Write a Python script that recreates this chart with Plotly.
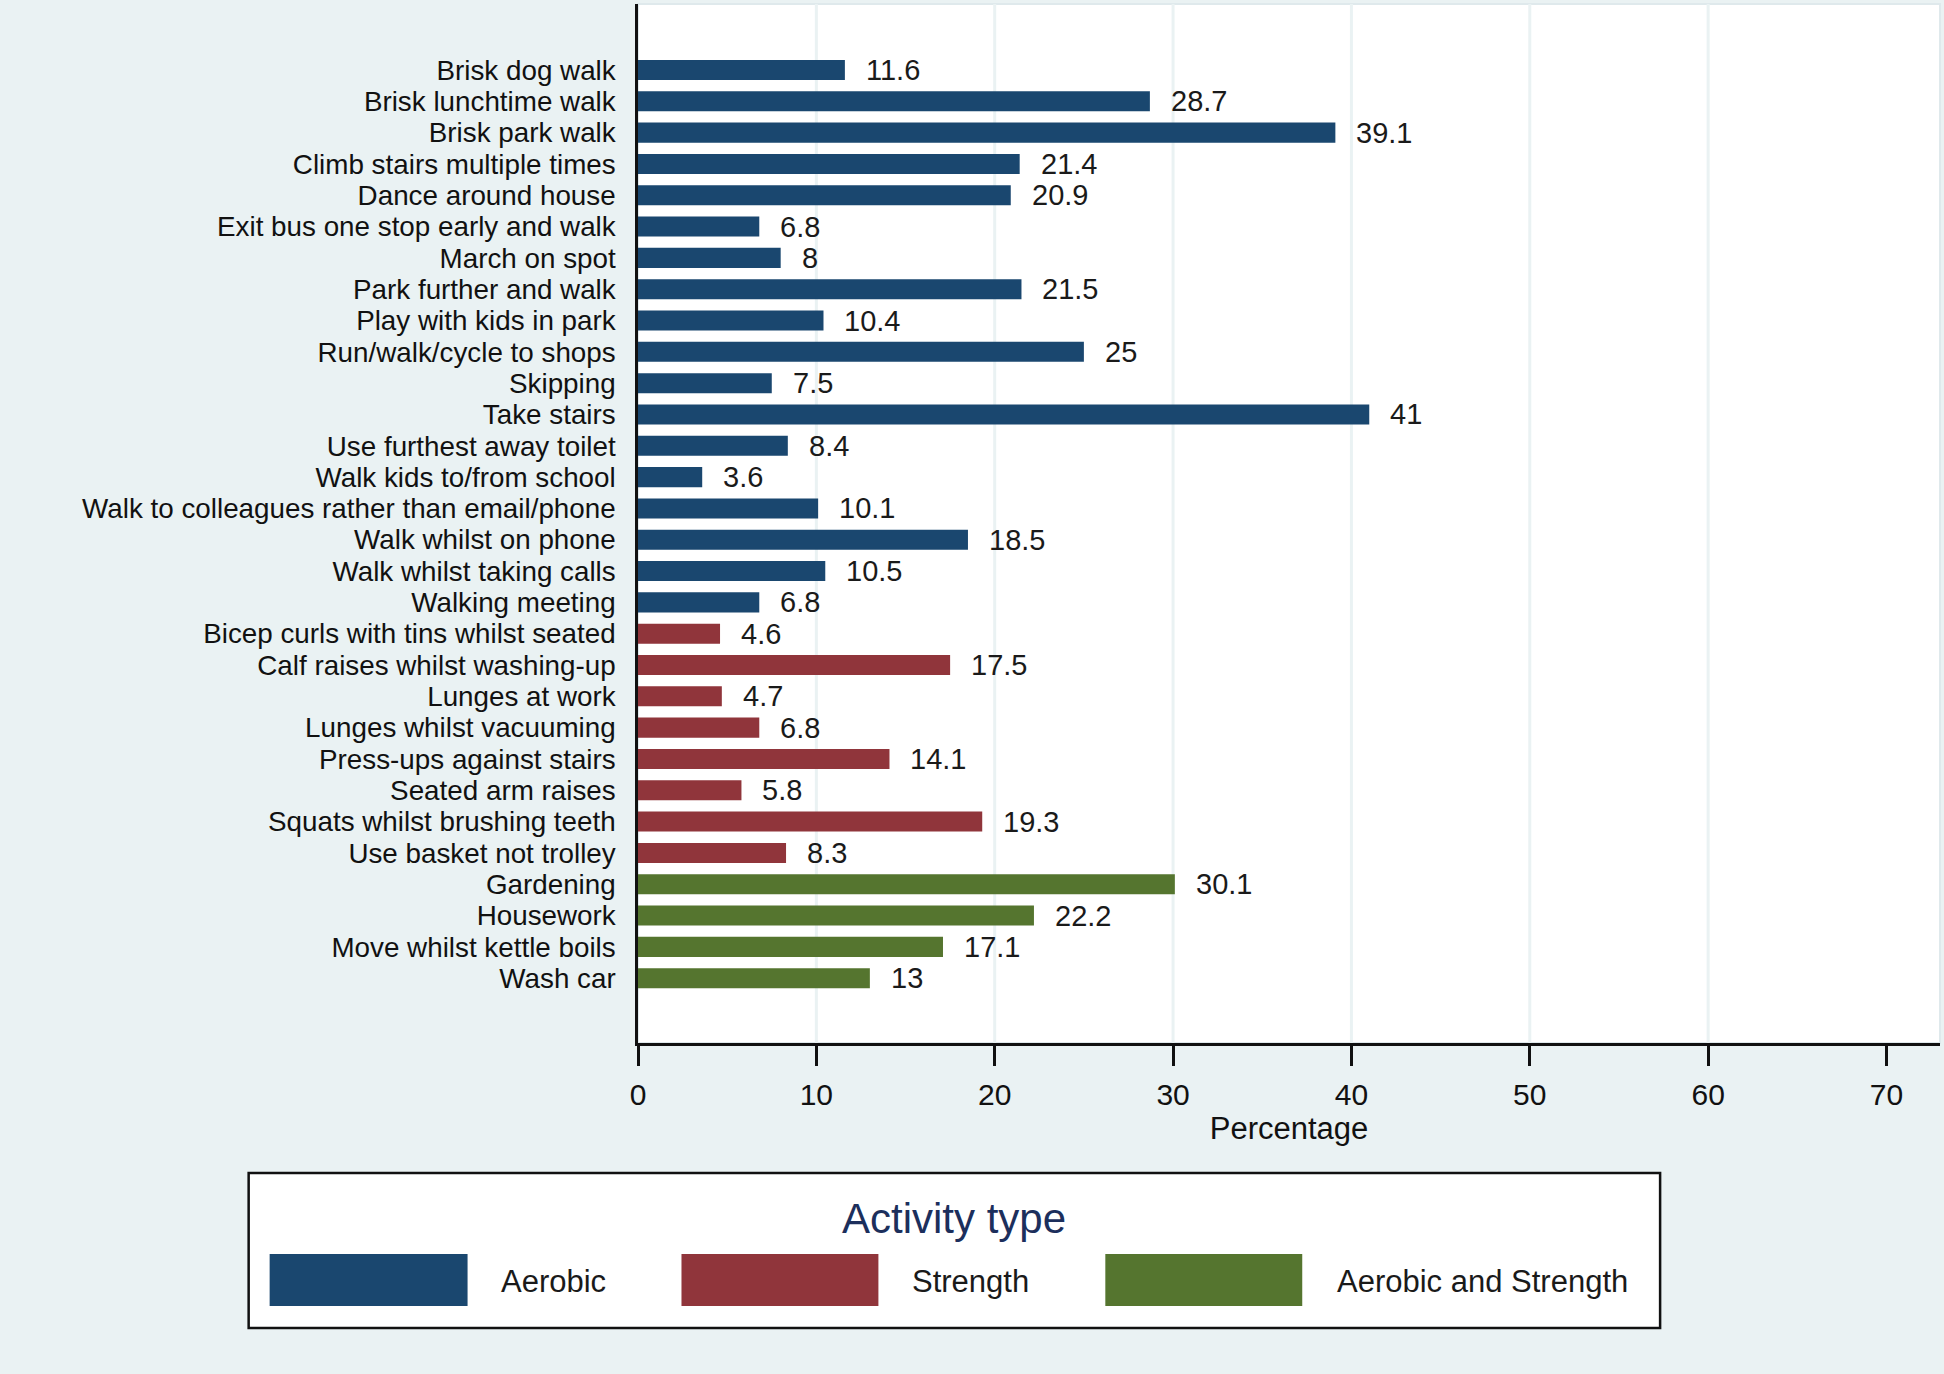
import plotly.graph_objects as go

# ---------------- data ----------------
aerobic_labels = [
    "Brisk dog walk", "Brisk lunchtime walk", "Brisk park walk",
    "Climb stairs multiple times", "Dance around house",
    "Exit bus one stop early and walk", "March on spot",
    "Park further and walk", "Play with kids in park",
    "Run/walk/cycle to shops", "Skipping", "Take stairs",
    "Use furthest away toilet", "Walk kids to/from school",
    "Walk to colleagues rather than email/phone", "Walk whilst on phone",
    "Walk whilst taking calls", "Walking meeting",
]
aerobic_values = [11.6, 28.7, 39.1, 21.4, 20.9, 6.8, 8, 21.5, 10.4, 25,
                  7.5, 41, 8.4, 3.6, 10.1, 18.5, 10.5, 6.8]

strength_labels = [
    "Bicep curls with tins whilst seated", "Calf raises whilst washing-up",
    "Lunges at work", "Lunges whilst vacuuming", "Press-ups against stairs",
    "Seated arm raises", "Squats whilst brushing teeth",
    "Use basket not trolley",
]
strength_values = [4.6, 17.5, 4.7, 6.8, 14.1, 5.8, 19.3, 8.3]

both_labels = ["Gardening", "Housework", "Move whilst kettle boils", "Wash car"]
both_values = [30.1, 22.2, 17.1, 13]

series_names = ["Aerobic", "Strength", "Aerobic and Strength"]
x_ticks = [0, 10, 20, 30, 40, 50, 60, 70]
grid_ticks = [10, 20, 30, 40, 50, 60]
legend_title = "Activity type"
x_title = "Percentage"

# ---------------- style ----------------
COLORS = ["#1a476f", "#90353b", "#55752f"]
BG = "#eaf2f3"
FONT = "Arial, Liberation Sans, sans-serif"
FIG_W, FIG_H = 1944, 1374
L, R, T, B = 637.5, 1940, 4, 1043
PW, PH = R - L, B - T


def px(xp):
    return (xp - L) / PW


def py(yp):
    return (B - yp) / PH


all_labels = aerobic_labels + strength_labels + both_labels
groups = [(aerobic_labels, aerobic_values),
          (strength_labels, strength_values),
          (both_labels, both_values)]

fig = go.Figure()
for (labs, vals), name, col in zip(groups, series_names, COLORS):
    fig.add_trace(go.Bar(
        x=vals, y=labs, orientation="h", name=name,
        marker=dict(color=col, line=dict(width=0)),
        width=0.64, showlegend=False,
    ))

annotations = []
for labs, vals in groups:
    for lab, v in zip(labs, vals):
        annotations.append(dict(
            x=v, y=lab, xref="x", yref="y", text=f"{v:g}",
            showarrow=False, xanchor="left", yanchor="middle", xshift=19,
            font=dict(family=FONT, size=29, color="#1a1a1a"),
        ))

shapes = []
# plot region outline (light)
shapes.append(dict(type="rect", xref="paper", yref="paper", x0=0, x1=1, y0=0, y1=1,
                   line=dict(color="#dfe9ec", width=2), fillcolor="rgba(0,0,0,0)",
                   layer="below"))
# vertical grid lines
for g in grid_ticks:
    shapes.append(dict(type="line", xref="x", yref="paper", x0=g, x1=g, y0=0, y1=1,
                       line=dict(color=BG, width=3), layer="below"))

# custom legend
shapes.append(dict(type="rect", xref="paper", yref="paper",
                   x0=px(248), x1=px(1660), y0=py(1328), y1=py(1173),
                   line=dict(color="#111111", width=2.5), fillcolor="white"))
sw_x = [(269, 467), (681, 878), (1105, 1302)]
txt_x = [498, 910, 1335]
for (a, b), col, tx, name in zip(sw_x, COLORS, txt_x, series_names):
    shapes.append(dict(type="rect", xref="paper", yref="paper",
                       x0=px(a), x1=px(b), y0=py(1306), y1=py(1254),
                       line=dict(width=0), fillcolor=col))
    annotations.append(dict(x=px(tx), y=py(1281), xref="paper", yref="paper",
                            text=name, showarrow=False, xanchor="left",
                            yanchor="middle",
                            font=dict(family=FONT, size=31, color="#1a1a1a")))
annotations.append(dict(x=px(954), y=py(1218), xref="paper", yref="paper",
                        text=legend_title, showarrow=False, xanchor="center",
                        yanchor="middle",
                        font=dict(family=FONT, size=42, color="#1c2f5c")))

fig.update_layout(
    width=FIG_W, height=FIG_H,
    margin=dict(l=L, r=FIG_W - R, t=T, b=FIG_H - B, pad=0),
    paper_bgcolor=BG, plot_bgcolor="white",
    barmode="overlay",
    font=dict(family=FONT, size=30, color="#111111"),
    shapes=shapes, annotations=annotations,
)
fig.update_xaxes(
    range=[0, 73], tickvals=x_ticks, ticktext=[str(t) for t in x_ticks],
    showgrid=False, zeroline=False,
    showline=True, linecolor="#111111", linewidth=2.5,
    ticks="outside", ticklen=20, tickwidth=2.5, tickcolor="#111111",
    tickfont=dict(family=FONT, size=30, color="#111111"),
    ticklabelstandoff=3,
    title=dict(text=x_title, font=dict(family=FONT, size=31, color="#111111"),
               standoff=0),
)
fig.update_yaxes(
    type="category", categoryorder="array", categoryarray=all_labels,
    tickmode="array", tickvals=all_labels, ticktext=all_labels,
    range=[31.07, -2.107],
    showgrid=False, zeroline=False,
    showline=True, linecolor="#111111", linewidth=2.5,
    ticks="", ticklabelstandoff=14,
    tickfont=dict(family=FONT, size=27.8, color="#111111"),
)

fig.write_html(
    "out.html",
    config={"displayModeBar": False},
    post_script="document.body.style.margin='0';document.body.style.padding='0';"
                "document.body.style.overflow='hidden';",
)
